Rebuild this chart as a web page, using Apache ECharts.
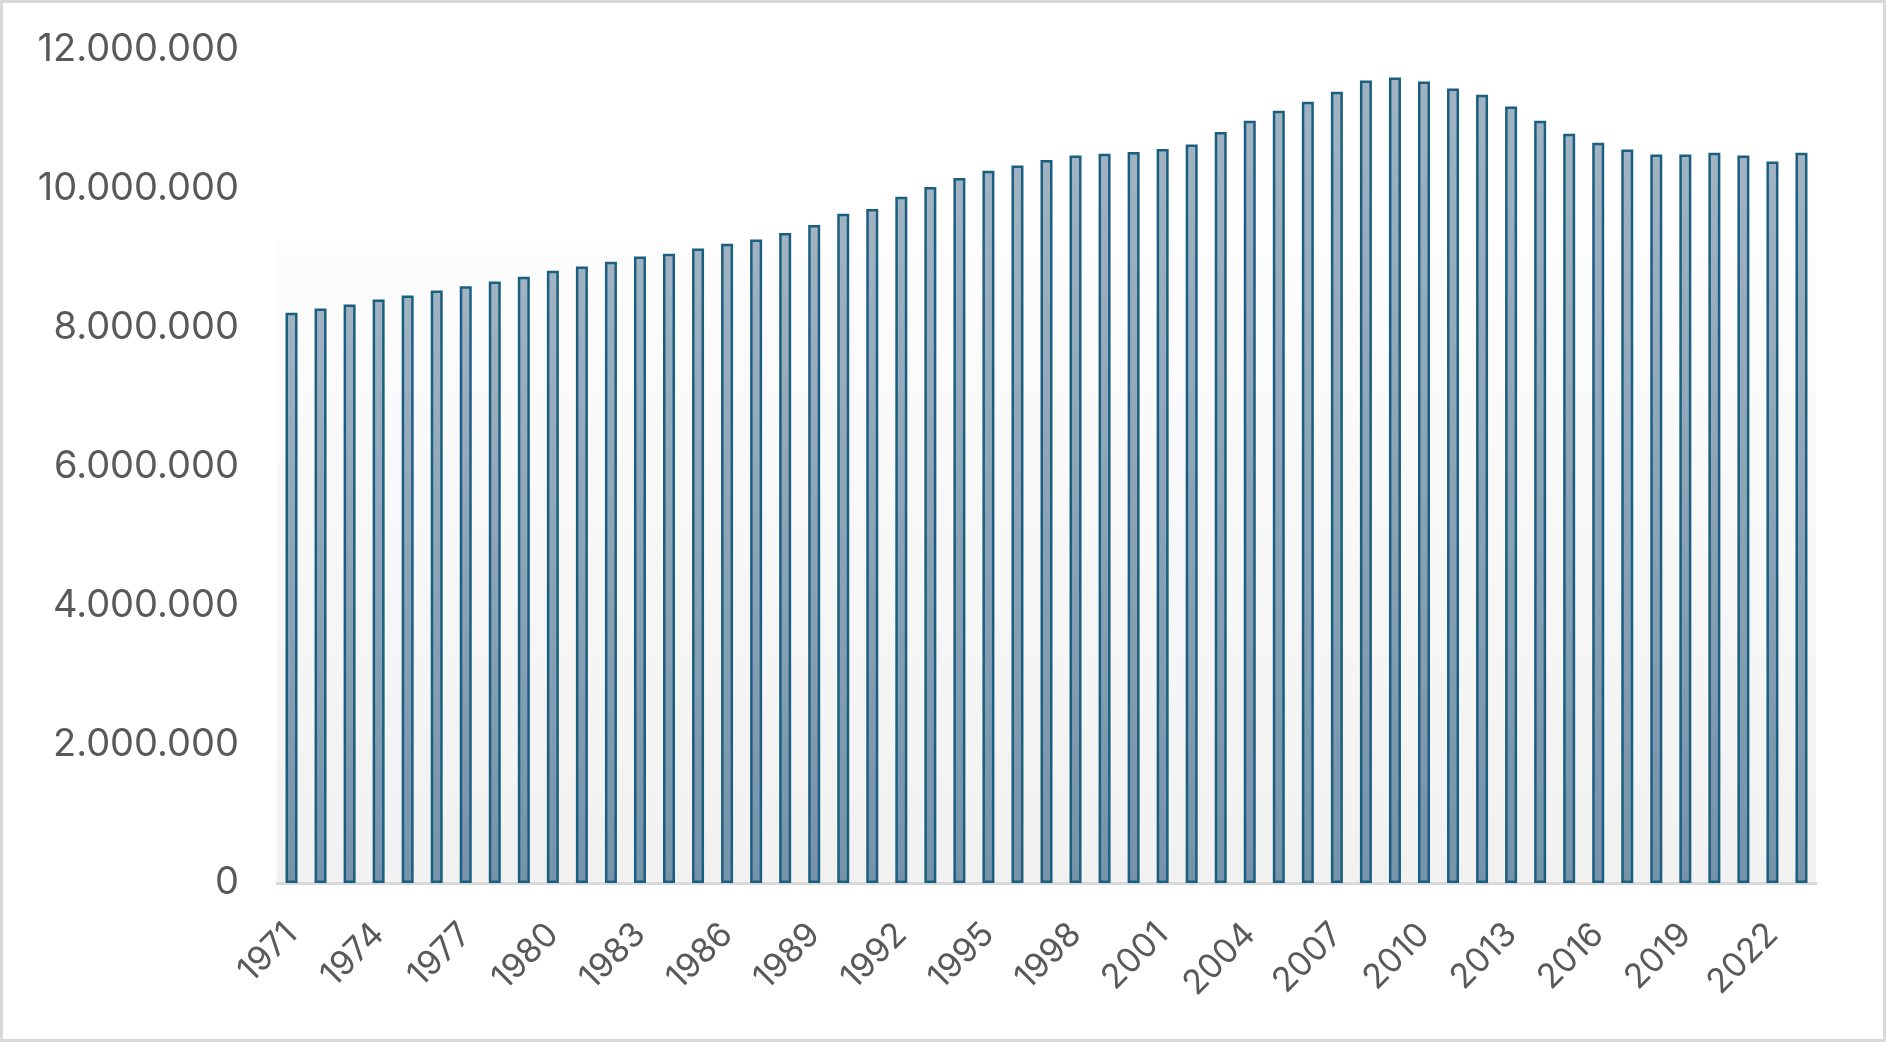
<!DOCTYPE html>
<html>
<head>
<meta charset="utf-8">
<script src="https://cdn.jsdelivr.net/npm/echarts@6/dist/echarts.min.js"></script>
<style>
html,body{margin:0;padding:0;background:#fff;}
#c{width:1886px;height:1042px;}
</style>
</head>
<body>
<div id="c"></div>
<script>
const years = [];
for (let y = 1971; y <= 2023; y++) years.push(String(y));
const values = [
  8215000, 8275000, 8335000, 8405000, 8465000, 8535000, 8595000, 8665000, 8735000, 8820000,
  8880000, 8950000, 9025000, 9065000, 9140000, 9210000, 9270000, 9365000, 9480000, 9640000,
  9710000, 9885000, 10025000, 10155000, 10260000, 10335000, 10415000, 10480000, 10505000, 10530000,
  10575000, 10640000, 10820000, 10980000, 11125000, 11255000, 11400000, 11560000, 11605000, 11545000,
  11445000, 11355000, 11185000, 10980000, 10795000, 10665000, 10565000, 10495000, 10495000, 10520000,
  10480000, 10395000, 10520000
];
const yTicks = { min: 0, max: 12000000, interval: 2000000 };

const chart = echarts.init(document.getElementById('c'), null, { renderer: 'canvas' });
const fmt = v => String(Math.round(v)).replace(/\B(?=(\d{3})+(?!\d))/g, '.');
chart.setOption({
  animation: false,
  backgroundColor: '#ffffff',
  grid: { left: 277, right: 70, top: 50, bottom: 159, containLabel: false },
  graphic: [{
    type: 'rect', z: -10, silent: true,
    shape: { x: 277, y: 240, width: 1539, height: 643 },
    style: { fill: new echarts.graphic.LinearGradient(0, 0, 0, 1, [
      { offset: 0, color: '#fdfdfd' }, { offset: 1, color: '#f1f1f1' }]) }
  }, {
    type: 'rect', z: 100, silent: true,
    shape: { x: 1.5, y: 1.5, width: 1883, height: 1039 },
    style: { fill: null, stroke: '#d9d9d9', lineWidth: 3 }
  }],
  xAxis: {
    type: 'category',
    data: years,
    axisLine: { show: true, lineStyle: { color: '#d9d9d9', width: 3 } },
    axisTick: { show: false },
    axisLabel: {
      interval: 2, rotate: 45, color: '#595959',
      fontFamily: 'Inter', fontSize: 34, margin: 46
    }
  },
  yAxis: {
    type: 'value',
    min: yTicks.min, max: yTicks.max, interval: yTicks.interval,
    axisLine: { show: false },
    axisTick: { show: false },
    splitLine: { show: false },
    axisLabel: {
      color: '#595959', fontFamily: 'Inter', fontSize: 38, margin: 38,
      formatter: fmt
    }
  },
  series: [{
    type: 'bar',
    data: values,
    barWidth: 12,
    itemStyle: {
      color: new echarts.graphic.LinearGradient(0, 0, 0, 1, [
        { offset: 0, color: '#a1b3c3' }, { offset: 1, color: '#7693aa' }]),
      borderColor: '#1b5f80',
      borderWidth: 2.5
    }
  }]
});
</script>
</body>
</html>
